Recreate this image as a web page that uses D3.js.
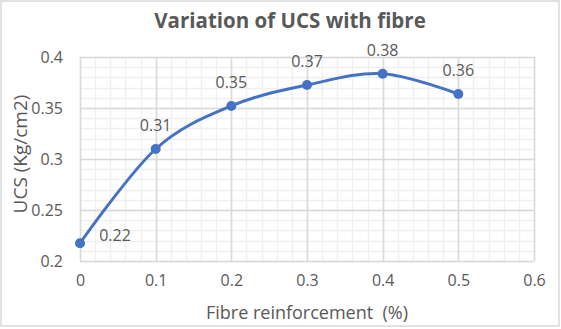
<!DOCTYPE html>
<html><head><meta charset="utf-8">
<script src="https://cdn.jsdelivr.net/npm/d3@7"></script>
<style>
html,body{margin:0;padding:0;background:#fff;}
svg{display:block;}
text{font-family:"Open Sans","Noto Sans",sans-serif;fill:#595959;white-space:pre;}
</style></head>
<body>
<svg id="chart" width="561" height="329"></svg>
<script>
const fibre = [0, 0.1, 0.2, 0.3, 0.4, 0.5];
const ucs = [0.2174, 0.3098, 0.352, 0.3725, 0.3836, 0.3637];
const xTicks = [0, 0.1, 0.2, 0.3, 0.4, 0.5, 0.6];
const yTicks = [0.2, 0.25, 0.3, 0.35, 0.4];
const title = "Variation of UCS with fibre";
const xTitle = "Fibre reinforcement  (%)";
const yTitle = "UCS (Kg/cm2)";

const W = 561, H = 329;
const svg = d3.select("#chart");
svg.append("rect").attr("x",1).attr("y",1).attr("width",W-3).attr("height",H-4)
  .attr("fill","#fff").attr("stroke","#d9d9d9").attr("stroke-width",1.5);

const x = d3.scaleLinear().domain([0,0.6]).range([80,534]);
const y = d3.scaleLinear().domain([0.2,0.4]).range([261,57]);

const g = svg.append("g");
const xMinor = d3.range(0, 0.6001, 0.02).map(v=>+v.toFixed(3));
const yMinor = d3.range(0.2, 0.4001, 0.01).map(v=>+v.toFixed(3));
g.selectAll(".mx").data(xMinor).enter().append("line")
  .attr("x1",d=>Math.round(x(d))+0.5).attr("x2",d=>Math.round(x(d))+0.5)
  .attr("y1",y(0.4)).attr("y2",y(0.2)).attr("stroke","#f0f0f0").attr("stroke-width",1.5);
g.selectAll(".my").data(yMinor).enter().append("line")
  .attr("y1",d=>Math.round(y(d))+0.5).attr("y2",d=>Math.round(y(d))+0.5)
  .attr("x1",x(0)).attr("x2",x(0.6)).attr("stroke","#f0f0f0").attr("stroke-width",1.5);
g.selectAll(".Mx").data(xTicks).enter().append("line")
  .attr("x1",d=>Math.round(x(d))+0.5).attr("x2",d=>Math.round(x(d))+0.5)
  .attr("y1",y(0.4)).attr("y2",y(0.2)).attr("stroke","#d9d9d9").attr("stroke-width",1.5);
g.selectAll(".My").data(yTicks).enter().append("line")
  .attr("y1",d=>Math.round(y(d))+0.5).attr("y2",d=>Math.round(y(d))+0.5)
  .attr("x1",x(0)).attr("x2",x(0.6)).attr("stroke","#d9d9d9").attr("stroke-width",1.5);

const xAxis = d3.axisBottom(x).tickValues(xTicks).tickSize(0).tickPadding(0).tickFormat(d3.format("~g"));
const xa = svg.append("g").attr("transform","translate(0,286)").call(xAxis);
xa.select(".domain").remove();
xa.selectAll("text").attr("font-size",16).attr("dy","0").style("fill","#595959")
  .attr("font-family","Open Sans");

const yAxis = d3.axisLeft(y).tickValues(yTicks).tickSize(0).tickPadding(0).tickFormat(d3.format("~g"));
const ya = svg.append("g").attr("transform","translate(63,0)").call(yAxis);
ya.select(".domain").remove();
ya.selectAll("text").attr("font-size",16).style("fill","#595959").attr("font-family","Open Sans");

const line = d3.line().x(d=>x(d[0])).y(d=>y(d[1])).curve(d3.curveCardinal.tension(0));
const pts = fibre.map((f,i)=>[f,ucs[i]]);
svg.append("path").datum(pts).attr("d",line).attr("fill","none")
  .attr("stroke","#4472C4").attr("stroke-width",3).attr("stroke-linecap","round");
svg.selectAll(".pt").data(pts).enter().append("circle")
  .attr("cx",d=>x(d[0])).attr("cy",d=>y(d[1])).attr("r",5).attr("fill","#4472C4");

const fmt = d3.format(".2f");
svg.selectAll(".lbl").data(pts).enter().append("text")
  .attr("x",(d,i)=> i===0 ? x(d[0])+35 : x(d[0]))
  .attr("y",(d,i)=> i===0 ? y(d[1])-2 : y(d[1])-18)
  .attr("text-anchor","middle").attr("font-size",16)
  .text(d=>fmt(d[1]));

svg.append("text").attr("x",290).attr("y",28).attr("text-anchor","middle")
  .attr("font-size",20.5).attr("font-weight","bold").text(title);
svg.append("text").attr("x",307).attr("y",319).attr("text-anchor","middle")
  .attr("font-size",18).text(xTitle);
svg.append("text").attr("transform","translate(27,154) rotate(-90)").attr("text-anchor","middle")
  .attr("font-size",19).text(yTitle);
</script>
</body></html>
